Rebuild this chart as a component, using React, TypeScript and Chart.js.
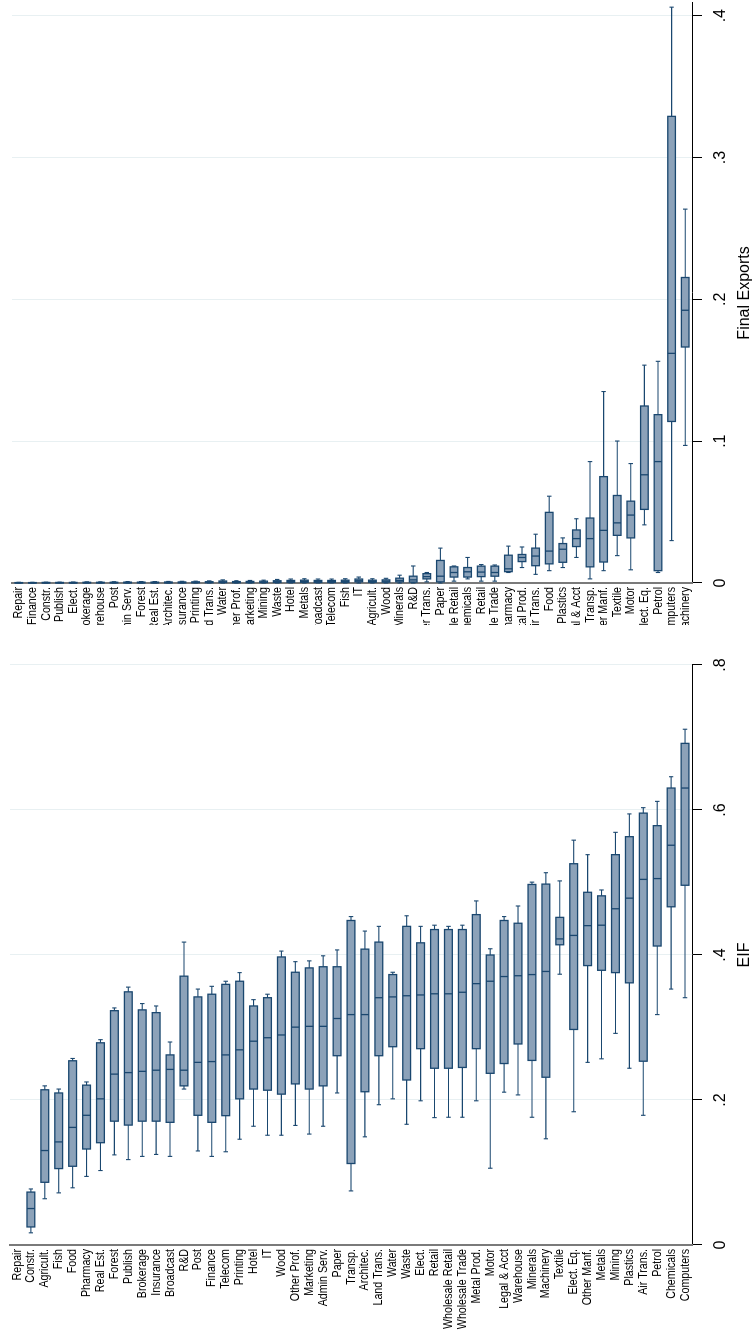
import React, { useEffect, useRef } from 'react';
import { Chart, registerables } from 'chart.js';

Chart.register(...registerables);

const FONT = '"Liberation Sans", Arial, sans-serif';
const LABEL_SIZE = 13;
const LABEL_SQUEEZE = 0.82; // narrow face for the sector names
const NAVY = '#1a476f';
const FILL = '#8ca2b9';
const GRID = '#e8f0f2';
const AXIS_GRAY = '#7a7a7a';

// ---- Final Exports: sectors sorted by median ----
const exportSectors = [
  'Repair', 'Finance', 'Constr.', 'Publish', 'Elect.', 'Brokerage', 'Warehouse', 'Post', 'Admin Serv.', 'Forest',
  'Real Est.', 'Architec.', 'Insurance', 'Printing', 'Land Trans.', 'Water', 'Other Prof.', 'Marketing', 'Mining', 'Waste',
  'Hotel', 'Metals', 'Broadcast', 'Telecom', 'Fish', 'IT', 'Agricult.', 'Wood', 'Minerals', 'R&D',
  'Water Trans.', 'Paper', 'Wholesale Retail', 'Chemicals', 'Retail', 'Wholesale Trade', 'Pharmacy', 'Metal Prod.', 'Air Trans.', 'Food',
  'Plastics', 'Legal & Acct', 'Transp.', 'Other Manf.', 'Textile', 'Motor', 'Elect. Eq.', 'Petrol', 'Computers', 'Machinery',
];
const exportLow = [
  0, 0, 0, 0, 0, 0, 0, 0, 0, 0,
  0, 0, 0, 0, 0, 0, 0, 0, 0, 0,
  0, 0, 0, 0, 0, 0, 0, 0, 0, 0,
  0.0008, 0, 0.0013, 0.0029, 0.0013, 0.0013, 0.0074, 0.0109, 0.0061, 0.0087,
  0.0109, 0.018, 0.0029, 0.0087, 0.0193, 0.0093, 0.041, 0.0074, 0.0299, 0.097,
];
const exportQ1 = [
  0, 0, 0, 0, 0, 0.0001, 0.0001, 0.0001, 0.0001, 0.0001,
  0.0001, 0.0001, 0.0001, 0.0002, 0.0002, 0.0003, 0.0002, 0.0002, 0.0003, 0.0004,
  0.0004, 0.0005, 0.0004, 0.0004, 0.0005, 0.0008, 0.0005, 0.0006, 0.0008, 0.0006,
  0.0029, 0.0008, 0.0042, 0.0042, 0.0045, 0.0048, 0.008, 0.0151, 0.0122, 0.0135,
  0.0146, 0.0257, 0.0114, 0.0148, 0.0336, 0.0318, 0.0519, 0.0087, 0.1139, 0.1664,
];
const exportMedian = [
  0.0001, 0.0001, 0.0002, 0.0002, 0.0002, 0.0002, 0.0002, 0.0003, 0.0003, 0.0003,
  0.0003, 0.0003, 0.0004, 0.0004, 0.0005, 0.0008, 0.0005, 0.0006, 0.0007, 0.0009,
  0.001, 0.0011, 0.001, 0.001, 0.0012, 0.0016, 0.0012, 0.0013, 0.0018, 0.0022,
  0.0045, 0.0048, 0.0074, 0.0079, 0.0077, 0.0074, 0.01, 0.018, 0.019, 0.0225,
  0.0238, 0.0313, 0.0313, 0.0371, 0.0424, 0.0479, 0.0763, 0.0856, 0.1619, 0.1923,
];
const exportQ3 = [
  0.0003, 0.0003, 0.0004, 0.0004, 0.0004, 0.0005, 0.0005, 0.0005, 0.0006, 0.0006,
  0.0006, 0.0007, 0.0007, 0.0008, 0.0009, 0.0014, 0.001, 0.0011, 0.0013, 0.0016,
  0.0018, 0.002, 0.0018, 0.0018, 0.002, 0.0028, 0.002, 0.0022, 0.0034, 0.0048,
  0.0066, 0.0159, 0.0114, 0.0109, 0.0119, 0.0119, 0.0196, 0.0201, 0.0246, 0.0498,
  0.0278, 0.0374, 0.0458, 0.075, 0.0617, 0.0577, 0.1248, 0.1187, 0.329, 0.2154,
];
const exportHigh = [
  0.0005, 0.0005, 0.0006, 0.0006, 0.0007, 0.0008, 0.0008, 0.0009, 0.001, 0.001,
  0.001, 0.0011, 0.0012, 0.0013, 0.0015, 0.0022, 0.0016, 0.0018, 0.002, 0.0025,
  0.0028, 0.003, 0.0028, 0.0028, 0.003, 0.0042, 0.003, 0.0033, 0.0055, 0.012,
  0.0074, 0.0246, 0.012, 0.018, 0.013, 0.0127, 0.026, 0.0254, 0.0344, 0.0612,
  0.0318, 0.0453, 0.0856, 0.135, 0.1001, 0.0842, 0.1536, 0.1563, 0.406, 0.2636,
];
const exportTicks = [0, 0.1, 0.2, 0.3, 0.4];

// ---- EIF: sectors sorted by median (Repair has no observations) ----
const eifSectors = [
  'Repair', 'Constr.', 'Agricult.', 'Fish', 'Food', 'Pharmacy', 'Real Est.', 'Forest', 'Publish', 'Brokerage',
  'Insurance', 'Broadcast', 'R&D', 'Post', 'Finance', 'Telecom', 'Printing', 'Hotel', 'IT', 'Wood',
  'Other Prof.', 'Marketing', 'Admin Serv.', 'Paper', 'Transp.', 'Architec.', 'Land Trans.', 'Water', 'Waste', 'Elect.',
  'Retail', 'Wholesale Retail', 'Wholesale Trade', 'Metal Prod.', 'Motor', 'Legal & Acct', 'Warehouse', 'Minerals', 'Machinery', 'Textile',
  'Elect. Eq.', 'Other Manf.', 'Metals', 'Mining', 'Plastics', 'Air Trans.', 'Petrol', 'Chemicals', 'Computers',
];
const eifLow = [
  null, 0.0168, 0.0638, 0.0719, 0.0789, 0.0946, 0.1027, 0.1243, 0.1178, 0.1222,
  0.1249, 0.1222, 0.2151, 0.1297, 0.1222, 0.1286, 0.1459, 0.1638, 0.1514, 0.1514,
  0.1649, 0.153, 0.1638, 0.2097, 0.0746, 0.1492, 0.1935, 0.2016, 0.1665, 0.1989,
  0.1757, 0.1762, 0.1762, 0.1989, 0.1059, 0.2108, 0.207, 0.1762, 0.1465, 0.3735,
  0.1838, 0.2519, 0.2568, 0.2919, 0.2438, 0.1789, 0.3178, 0.353, 0.3411,
];
const eifQ1 = [
  null, 0.0249, 0.0865, 0.1054, 0.1086, 0.1324, 0.1411, 0.1708, 0.1654, 0.1708,
  0.1708, 0.1692, 0.2195, 0.1789, 0.1692, 0.1784, 0.2016, 0.2151, 0.2135, 0.2081,
  0.2222, 0.2151, 0.2195, 0.2611, 0.1124, 0.2114, 0.2611, 0.2735, 0.2276, 0.2708,
  0.2438, 0.2438, 0.2449, 0.2708, 0.2368, 0.2503, 0.2773, 0.2546, 0.2314, 0.4141,
  0.2973, 0.3854, 0.3789, 0.3757, 0.3616, 0.2535, 0.4124, 0.4665, 0.4962,
];
const eifMedian = [
  null, 0.0503, 0.1303, 0.1422, 0.1622, 0.1789, 0.2016, 0.2357, 0.2378, 0.2395,
  0.2411, 0.2422, 0.2411, 0.2519, 0.253, 0.2622, 0.2692, 0.2811, 0.2859, 0.2897,
  0.3005, 0.3016, 0.3016, 0.3124, 0.3178, 0.3178, 0.3411, 0.3422, 0.3438, 0.3449,
  0.3465, 0.3465, 0.3486, 0.3605, 0.3638, 0.3703, 0.3714, 0.373, 0.3773, 0.4222,
  0.427, 0.4405, 0.4411, 0.4638, 0.4784, 0.5043, 0.5054, 0.5514, 0.6303,
];
const eifQ3 = [
  null, 0.073, 0.2141, 0.2097, 0.2541, 0.2205, 0.2789, 0.3232, 0.3492, 0.3243,
  0.3205, 0.2622, 0.3708, 0.3422, 0.3459, 0.3595, 0.3638, 0.3297, 0.3411, 0.3973,
  0.3762, 0.3822, 0.3838, 0.3838, 0.4476, 0.4081, 0.4178, 0.373, 0.4395, 0.4168,
  0.4351, 0.4351, 0.4351, 0.4557, 0.4, 0.4476, 0.4438, 0.4973, 0.4978, 0.4519,
  0.5259, 0.4865, 0.4816, 0.5384, 0.5632, 0.5957, 0.5784, 0.6303, 0.6919,
];
const eifHigh = [
  null, 0.0773, 0.2195, 0.2151, 0.2573, 0.2249, 0.2832, 0.327, 0.3557, 0.333,
  0.3297, 0.28, 0.4178, 0.353, 0.3568, 0.3638, 0.3757, 0.3384, 0.3459, 0.4054,
  0.3908, 0.3919, 0.3989, 0.407, 0.453, 0.433, 0.4395, 0.3762, 0.4541, 0.4395,
  0.4411, 0.4395, 0.4411, 0.4746, 0.4086, 0.453, 0.4676, 0.5005, 0.5135, 0.5022,
  0.5584, 0.5384, 0.4897, 0.5692, 0.5946, 0.6032, 0.6119, 0.6459, 0.7114,
];
const eifTicks = [0, 0.2, 0.4, 0.6, 0.8];

type Num = number | null;
interface Stats { low: Num[]; q1: Num[]; med: Num[]; q3: Num[]; high: Num[] }

const fmtTick = (v: number) => (v === 0 ? '0' : v.toFixed(1).replace(/^0/, ''));

// Whiskers, caps, box outline and median line, placed with the chart's own scales,
// plus the sector names set in a narrow face beside the category axis.
function boxWhiskerPlugin(s: Stats) {
  return {
    id: 'boxWhiskers',
    afterDatasetsDraw(chart: any) {
      const { ctx } = chart;
      const xs = chart.scales.x;
      const ys = chart.scales.y;
      const meta = chart.getDatasetMeta(0);
      const seg = (x1: number, y1: number, x2: number, y2: number) => {
        ctx.beginPath();
        ctx.moveTo(x1, y1);
        ctx.lineTo(x2, y2);
        ctx.stroke();
      };
      ctx.save();
      ctx.strokeStyle = NAVY;
      ctx.lineCap = 'butt';
      s.q1.forEach((q1, i) => {
        if (q1 == null) return;
        const bar = meta.data[i];
        const half = (bar && bar.height ? bar.height : 8) / 2;
        const yc = ys.getPixelForValue(i);
        const pLow = xs.getPixelForValue(s.low[i] as number);
        const pQ1 = xs.getPixelForValue(q1);
        const pMed = xs.getPixelForValue(s.med[i] as number);
        const pQ3 = xs.getPixelForValue(s.q3[i] as number);
        const pHigh = xs.getPixelForValue(s.high[i] as number);
        const cap = 2.2;
        ctx.lineWidth = 1.1;
        seg(pLow, yc, pQ1, yc);
        seg(pQ3, yc, pHigh, yc);
        seg(pLow, yc - cap, pLow, yc + cap);
        seg(pHigh, yc - cap, pHigh, yc + cap);
        ctx.lineWidth = 1.3;
        ctx.strokeRect(pQ1, yc - half, pQ3 - pQ1, half * 2);
        seg(pMed, yc - half, pMed, yc + half);
      });
      ctx.restore();
    },
    afterDraw(chart: any) {
      const { ctx, chartArea } = chart;
      const ys = chart.scales.y;
      const labels: string[] = chart.data.labels;
      ctx.save();
      ctx.font = `${LABEL_SIZE}px ${FONT}`;
      ctx.fillStyle = '#000';
      ctx.textAlign = 'right';
      ctx.textBaseline = 'middle';
      labels.forEach((lab, i) => {
        ctx.save();
        ctx.translate(chartArea.left - 4, ys.getPixelForValue(i));
        ctx.scale(LABEL_SQUEEZE, 1);
        ctx.fillText(lab, 0, 0);
        ctx.restore();
      });
      ctx.restore();
    },
  };
}

function makeConfig(
  labels: string[],
  s: Stats,
  ticks: number[],
  max: number,
  title: string,
  padding: { top: number; right: number; bottom: number; left: number },
  labelWidth: number,
): any {
  return {
    type: 'bar',
    data: {
      labels,
      datasets: [
        {
          data: s.q1.map((v, i) => (v == null ? null : [v, s.q3[i]])),
          backgroundColor: FILL,
          borderWidth: 0,
          barPercentage: 0.56,
          categoryPercentage: 1,
        },
      ],
    },
    options: {
      indexAxis: 'y',
      responsive: false,
      maintainAspectRatio: false,
      animation: false,
      events: [],
      layout: { padding },
      plugins: { legend: { display: false }, tooltip: { enabled: false } },
      scales: {
        x: {
          type: 'linear',
          position: 'bottom',
          min: 0,
          max,
          afterBuildTicks: (sc: any) => {
            sc.ticks = ticks.map((v) => ({ value: v }));
          },
          afterFit: (sc: any) => {
            sc.height = 61;
          },
          grid: {
            color: (c: any) => (c.tick && c.tick.value === 0 ? 'rgba(0,0,0,0)' : GRID),
            lineWidth: 1,
            drawTicks: true,
            tickLength: 10,
            tickColor: '#000',
            tickWidth: 1,
          },
          border: { display: true, color: '#000', width: 1 },
          ticks: {
            font: { family: FONT, size: 16 },
            color: '#000',
            padding: 9,
            maxRotation: 0,
            minRotation: 0,
            callback: (v: number) => fmtTick(v),
          },
          title: {
            display: true,
            text: title,
            color: '#000',
            font: { family: FONT, size: 16, lineHeight: 1 },
            padding: { top: 0, bottom: 0 },
          },
        },
        y: {
          type: 'category',
          position: 'left',
          offset: true,
          afterFit: (sc: any) => {
            sc.width = labelWidth;
          },
          grid: { display: false, drawTicks: false },
          border: { display: true, color: AXIS_GRAY, width: 2 },
          ticks: { display: false, autoSkip: false },
        },
      },
    },
    plugins: [boxWhiskerPlugin(s)],
  };
}

export default function App() {
  const eifRef = useRef<HTMLCanvasElement>(null);
  const expRef = useRef<HTMLCanvasElement>(null);

  useEffect(() => {
    const eifStats: Stats = { low: eifLow, q1: eifQ1, med: eifMedian, q3: eifQ3, high: eifHigh };
    const expStats: Stats = { low: exportLow, q1: exportQ1, med: exportMedian, q3: exportQ3, high: exportHigh };
    const eifChart = new Chart(
      eifRef.current as HTMLCanvasElement,
      makeConfig(eifSectors, eifStats, eifTicks, 0.8, 'EIF', { top: 10, right: 40, bottom: 0, left: 0 }, 90),
    );
    const expChart = new Chart(
      expRef.current as HTMLCanvasElement,
      makeConfig(exportSectors, expStats, exportTicks, 0.409, 'Final Exports', { top: 12, right: 0, bottom: 0, left: 0 }, 42),
    );
    return () => {
      eifChart.destroy();
      expChart.destroy();
    };
  }, []);

  return (
    <div
      style={{
        position: 'absolute',
        left: 0,
        top: 0,
        width: 753,
        height: 1335,
        overflow: 'hidden',
        background: '#fff',
      }}
    >
      <div
        style={{
          position: 'absolute',
          left: 0,
          top: 0,
          width: 1335,
          height: 753,
          display: 'flex',
          transformOrigin: '0 0',
          transform: 'translate(0px, 1335px) rotate(-90deg)',
        }}
      >
        <canvas ref={eifRef} width={710} height={753} style={{ width: 710, height: 753, display: 'block' }} />
        <canvas ref={expRef} width={625} height={753} style={{ width: 625, height: 753, display: 'block' }} />
      </div>
    </div>
  );
}
